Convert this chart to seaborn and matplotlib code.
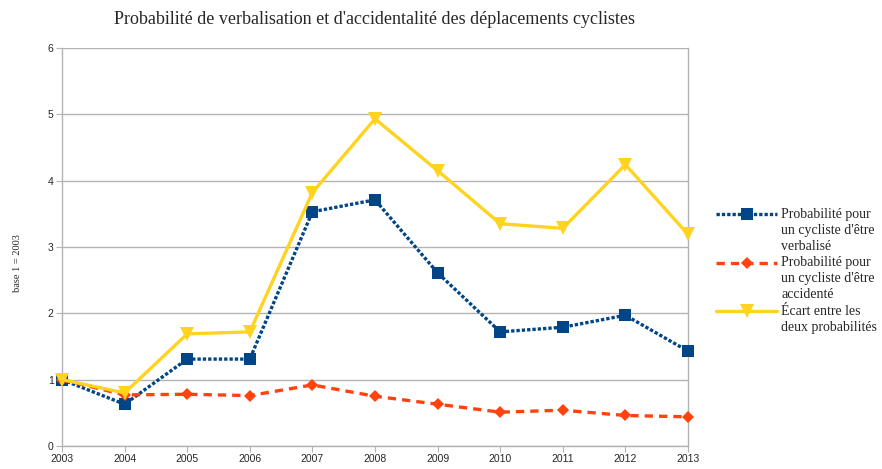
import pandas as pd
import matplotlib.pyplot as plt
import seaborn as sns
from matplotlib.legend_handler import HandlerLine2D

# values (base 1 = 2003)
years = [2003, 2004, 2005, 2006, 2007, 2008, 2009, 2010, 2011, 2012, 2013]
verbalise = [1.0, 0.63, 1.31, 1.31, 3.53, 3.71, 2.61, 1.72, 1.79, 1.97, 1.43]
accidente = [1.0, 0.77, 0.78, 0.76, 0.92, 0.75, 0.63, 0.51, 0.54, 0.46, 0.44]
ecart = [1.0, 0.80, 1.69, 1.72, 3.82, 4.93, 4.15, 3.35, 3.28, 4.24, 3.19]

labels = ["Probabilité pour\nun cycliste d'être\nverbalisé",
          "Probabilité pour\nun cycliste d'être\naccidenté",
          "Écart entre les\ndeux probabilités"]

data = pd.DataFrame({
    "annee": years * 3,
    "valeur": verbalise + accidente + ecart,
    "serie": [labels[0]] * len(years) + [labels[1]] * len(years) + [labels[2]] * len(years),
})


# legend handle aligned with the first text line (like LibreOffice)
class TopHandler(HandlerLine2D):
    def __init__(self, shift, **kw):
        super().__init__(**kw)
        self.shift = shift

    def create_artists(self, legend, orig_handle, xdescent, ydescent, width, height, fontsize, trans):
        return super().create_artists(legend, orig_handle, xdescent, ydescent - 2 * self.shift,
                                      width, height, fontsize, trans)


sns.set_style("white")
plt.rcParams['font.family'] = ['Liberation Sans', 'DejaVu Sans']

fig, ax = plt.subplots(figsize=(8.82, 4.69), dpi=100)
fig.subplots_adjust(left=0.0703, right=0.78, top=0.898, bottom=0.049)

colors = {labels[0]: "#004586", labels[1]: "#ff420e", labels[2]: "#ffd320"}
markers = {labels[0]: "s", labels[1]: "D", labels[2]: "v"}
dashes = {labels[0]: (1, 0.6), labels[1]: (2.5, 1.8), labels[2]: ""}
sizes = {labels[0]: 9, labels[1]: 6.5, labels[2]: 9.5}

for lab in labels:
    sub = data[data["serie"] == lab]
    sns.lineplot(data=sub, x="annee", y="valeur", ax=ax, color=colors[lab],
                 marker=markers[lab], markersize=sizes[lab], markeredgewidth=0,
                 linewidth=2.4, label=lab, clip_on=False, zorder=3)
    if dashes[lab]:
        ax.lines[-1].set_dashes(dashes[lab])

ax.set_xlim(2003, 2013)
ax.set_ylim(0, 6)
ax.set_xticks(years)
ax.set_yticks(range(0, 7))
ax.tick_params(axis="both", labelsize=7.5, length=4, color="#b3b3b3", direction="out", pad=2)
ax.tick_params(axis="both", bottom=True, left=True)
ax.yaxis.grid(True, color="#b3b3b3", linewidth=1)
ax.set_axisbelow(True)
for sp in ax.spines.values():
    sp.set_color("#b3b3b3")
    sp.set_linewidth(1)
    sp.set_visible(True)
ax.spines["top"].set_visible(False)

ax.set_xlabel("")
ax.set_ylabel("base 1 = 2003", fontsize=7.5, family=["Liberation Serif"])
ax.yaxis.set_label_coords(-0.064, 0.46)
ax.set_title("Probabilité de verbalisation et d'accidentalité des déplacements cyclistes",
             fontsize=13, family=["Liberation Serif"], pad=17)

line_pt = 16.3 * 72 / 100
handles, labs = ax.get_legend_handles_labels()
hmap = {h: TopHandler((l.count("\n")) / 2 * line_pt) for h, l in zip(handles, labs)}
leg = ax.legend(handles, labs, handler_map=hmap, loc="center left",
                bbox_to_anchor=(1.025, 0.44), frameon=False,
                prop={"family": "Liberation Serif", "size": 10}, handlelength=4.4,
                handletextpad=0.3, labelspacing=0.25)
for t in leg.get_texts():
    t.set_linespacing(1.3)

plt.savefig("out.png", dpi=100)
